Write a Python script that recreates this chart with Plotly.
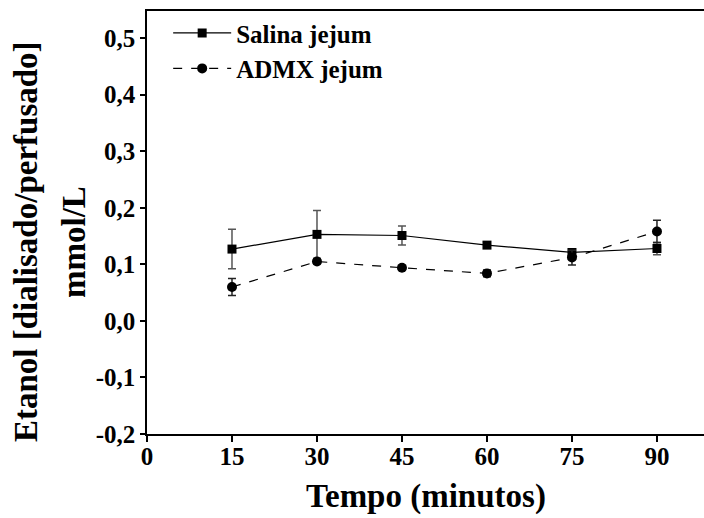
import plotly.graph_objects as go

tempo = [15, 30, 45, 60, 75, 90]
salina = [0.127, 0.153, 0.151, 0.134, 0.121, 0.128]
salina_err = [0.035, 0.042, 0.017, 0.004, 0.004, 0.011]
admx = [0.060, 0.105, 0.094, 0.084, 0.112, 0.158]
admx_err = [0.015, 0.004, 0.004, 0.006, 0.013, 0.020]
x_ticks = [0, 15, 30, 45, 60, 75, 90]
y_ticks = [-0.2, -0.1, 0.0, 0.1, 0.2, 0.3, 0.4, 0.5]
y_labels = ["-0,2", "-0,1", "0,0", "0,1", "0,2", "0,3", "0,4", "0,5"]

FONT = "Liberation Serif"

fig = go.Figure()
fig.add_trace(go.Scatter(
    x=tempo, y=salina, name="<b>Salina jejum</b>", mode="lines+markers",
    line=dict(color="black", width=1.2),
    marker=dict(symbol="square", size=9, color="black"),
    error_y=dict(type="data", array=salina_err, color="#555", thickness=1.5, width=4),
    legendgroup="a",
))
fig.add_trace(go.Scatter(
    x=tempo, y=admx, name="<b>ADMX jejum</b>", mode="lines+markers",
    line=dict(color="black", width=1.2, dash="dash"),
    marker=dict(symbol="circle", size=10, color="black"),
    error_y=dict(type="data", array=admx_err, color="#222", thickness=1.5, width=4),
    legendgroup="b",
))

fig.update_layout(
    width=704, height=518,
    margin=dict(l=147, r=0, t=11, b=84),
    paper_bgcolor="white", plot_bgcolor="white",
    font=dict(family=FONT, color="black"),
    showlegend=True,
    legend=dict(x=0.038, y=1.002, xanchor="left", yanchor="top",
                font=dict(family=FONT, size=25, color="black"),
                itemwidth=58, bgcolor="rgba(0,0,0,0)", tracegroupgap=0),
    xaxis=dict(range=[0, 98.3], tickvals=x_ticks, ticktext=[f"<b>{v}</b>" for v in x_ticks],
               showgrid=False, zeroline=False, showline=True, linecolor="black", linewidth=1.5,
               mirror=True, ticks="outside", ticklen=6, tickwidth=1.5, tickcolor="black",
               ticklabelstandoff=-7,
               tickfont=dict(family=FONT, size=25)),
    yaxis=dict(range=[-0.2, 0.548], tickvals=y_ticks, ticktext=[f"<b>{t}</b>" for t in y_labels],
               showgrid=False, zeroline=False, showline=True, linecolor="black", linewidth=1.5,
               ticks="outside", ticklen=5, tickwidth=1.5, tickcolor="black",
               tickfont=dict(family=FONT, size=25)),
)

fig.add_annotation(text="<b>Tempo (minutos)</b>",
                   xref="paper", yref="paper", x=0.5, y=-0.1466, xanchor="center", yanchor="middle",
                   showarrow=False, font=dict(family=FONT, size=33, color="black"))
fig.add_annotation(text="<b>Etanol [dialisado/perfusado]</b>", textangle=-90,
                   xref="paper", yref="paper", x=-0.217, y=0.454, xanchor="center", yanchor="middle",
                   showarrow=False, font=dict(family=FONT, size=33, color="black"))
fig.add_annotation(text="<b>mmol/L</b>", textangle=-90,
                   xref="paper", yref="paper", x=-0.131, y=0.454, xanchor="center", yanchor="middle",
                   showarrow=False, font=dict(family=FONT, size=33, color="black"))

fig.write_html("out.html")
